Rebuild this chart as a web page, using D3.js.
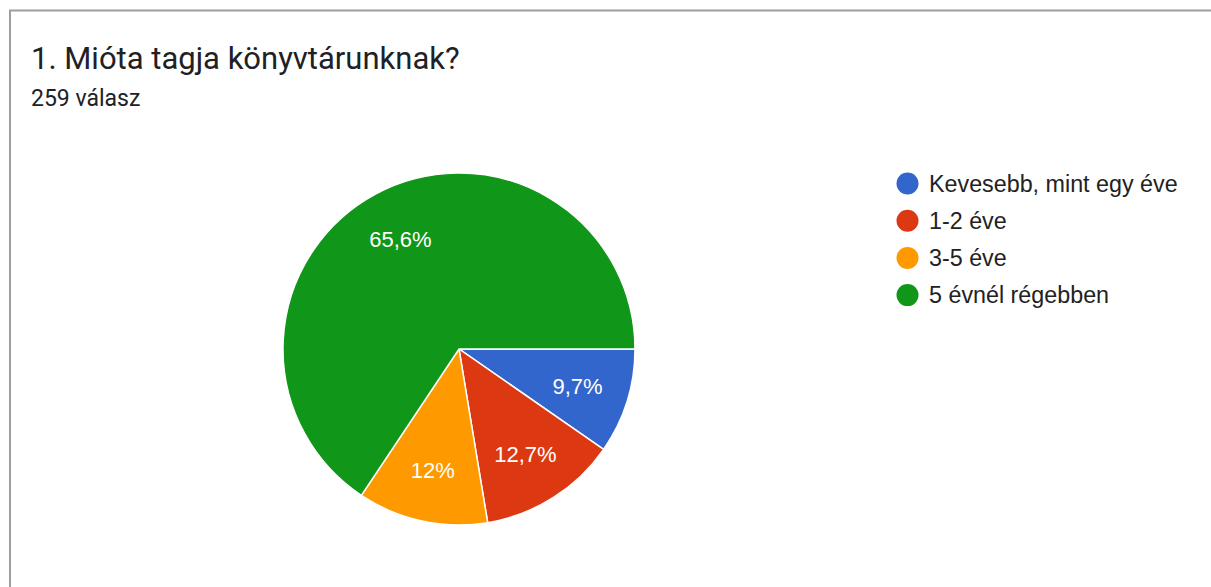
<!DOCTYPE html>
<html><head><meta charset="utf-8">
<script src="https://cdn.jsdelivr.net/npm/d3@7"></script>
<style>html,body{margin:0;padding:0;background:#fff;}svg{display:block;font-family:Roboto,Arial,sans-serif;}</style>
</head><body>
<svg id="c" width="1211" height="587"></svg>
<script>
const title = "1. Mióta tagja könyvtárunknak?";
const subtitle = "259 válasz";
const categories = ["Kevesebb, mint egy éve", "1-2 éve", "3-5 éve", "5 évnél régebben"];
const counts = [25, 33, 31, 170];
const colors = ["#3366cc", "#dc3912", "#ff9900", "#109618"];

const svg = d3.select("#c");
// card border (top + left)
svg.append("line").attr("x1",9).attr("x2",1211).attr("y1",10.5).attr("y2",10.5).attr("stroke","#9e9e9e").attr("stroke-width",2);
svg.append("line").attr("x1",10).attr("x2",10).attr("y1",10).attr("y2",587).attr("stroke","#9e9e9e").attr("stroke-width",2);

svg.append("text").attr("x",31).attr("y",69).attr("font-size",31).attr("fill","#202124").text(title);
svg.append("text").attr("x",31).attr("y",106).attr("font-size",23).attr("fill","#202124").text(subtitle);

const total = d3.sum(counts);
const cx = 459, cy = 349, r = 176;
const pie = d3.pie().sort(null).value(d => d).startAngle(Math.PI/2).endAngle(Math.PI/2 + 2*Math.PI);
const arcs = pie(counts);
const arc = d3.arc().innerRadius(0).outerRadius(r);
const labelArc = d3.arc().innerRadius(r*0.706).outerRadius(r*0.706);
const g = svg.append("g").attr("transform",`translate(${cx},${cy})`);
g.selectAll("path").data(arcs).join("path")
  .attr("d", arc).attr("fill",(d,i)=>colors[i]).attr("stroke","#fff").attr("stroke-width",1.5);
const fmt = v => { const p = Math.round(v*1000)/10; return (Number.isInteger(p) ? String(p) : p.toFixed(1)).replace(".", ","); };
g.selectAll("text").data(arcs).join("text")
  .attr("transform", d => `translate(${labelArc.centroid(d)})`)
  .attr("text-anchor","middle").attr("dy","0.36em")
  .attr("font-family","Arial, 'Liberation Sans', sans-serif")
  .attr("font-size",22).attr("fill","#fff")
  .text(d => fmt(d.data/total) + "%");

const lg = svg.append("g");
categories.forEach((c,i)=>{
  const y = 183.5 + i*37.2;
  lg.append("circle").attr("cx",907.5).attr("cy",y).attr("r",11).attr("fill",colors[i]);
  lg.append("text").attr("x",929).attr("y",y).attr("dy","0.36em")
    .attr("font-family","Arial, 'Liberation Sans', sans-serif")
    .attr("font-size",23.3).attr("fill","#222").text(c);
});
</script>
</body></html>
